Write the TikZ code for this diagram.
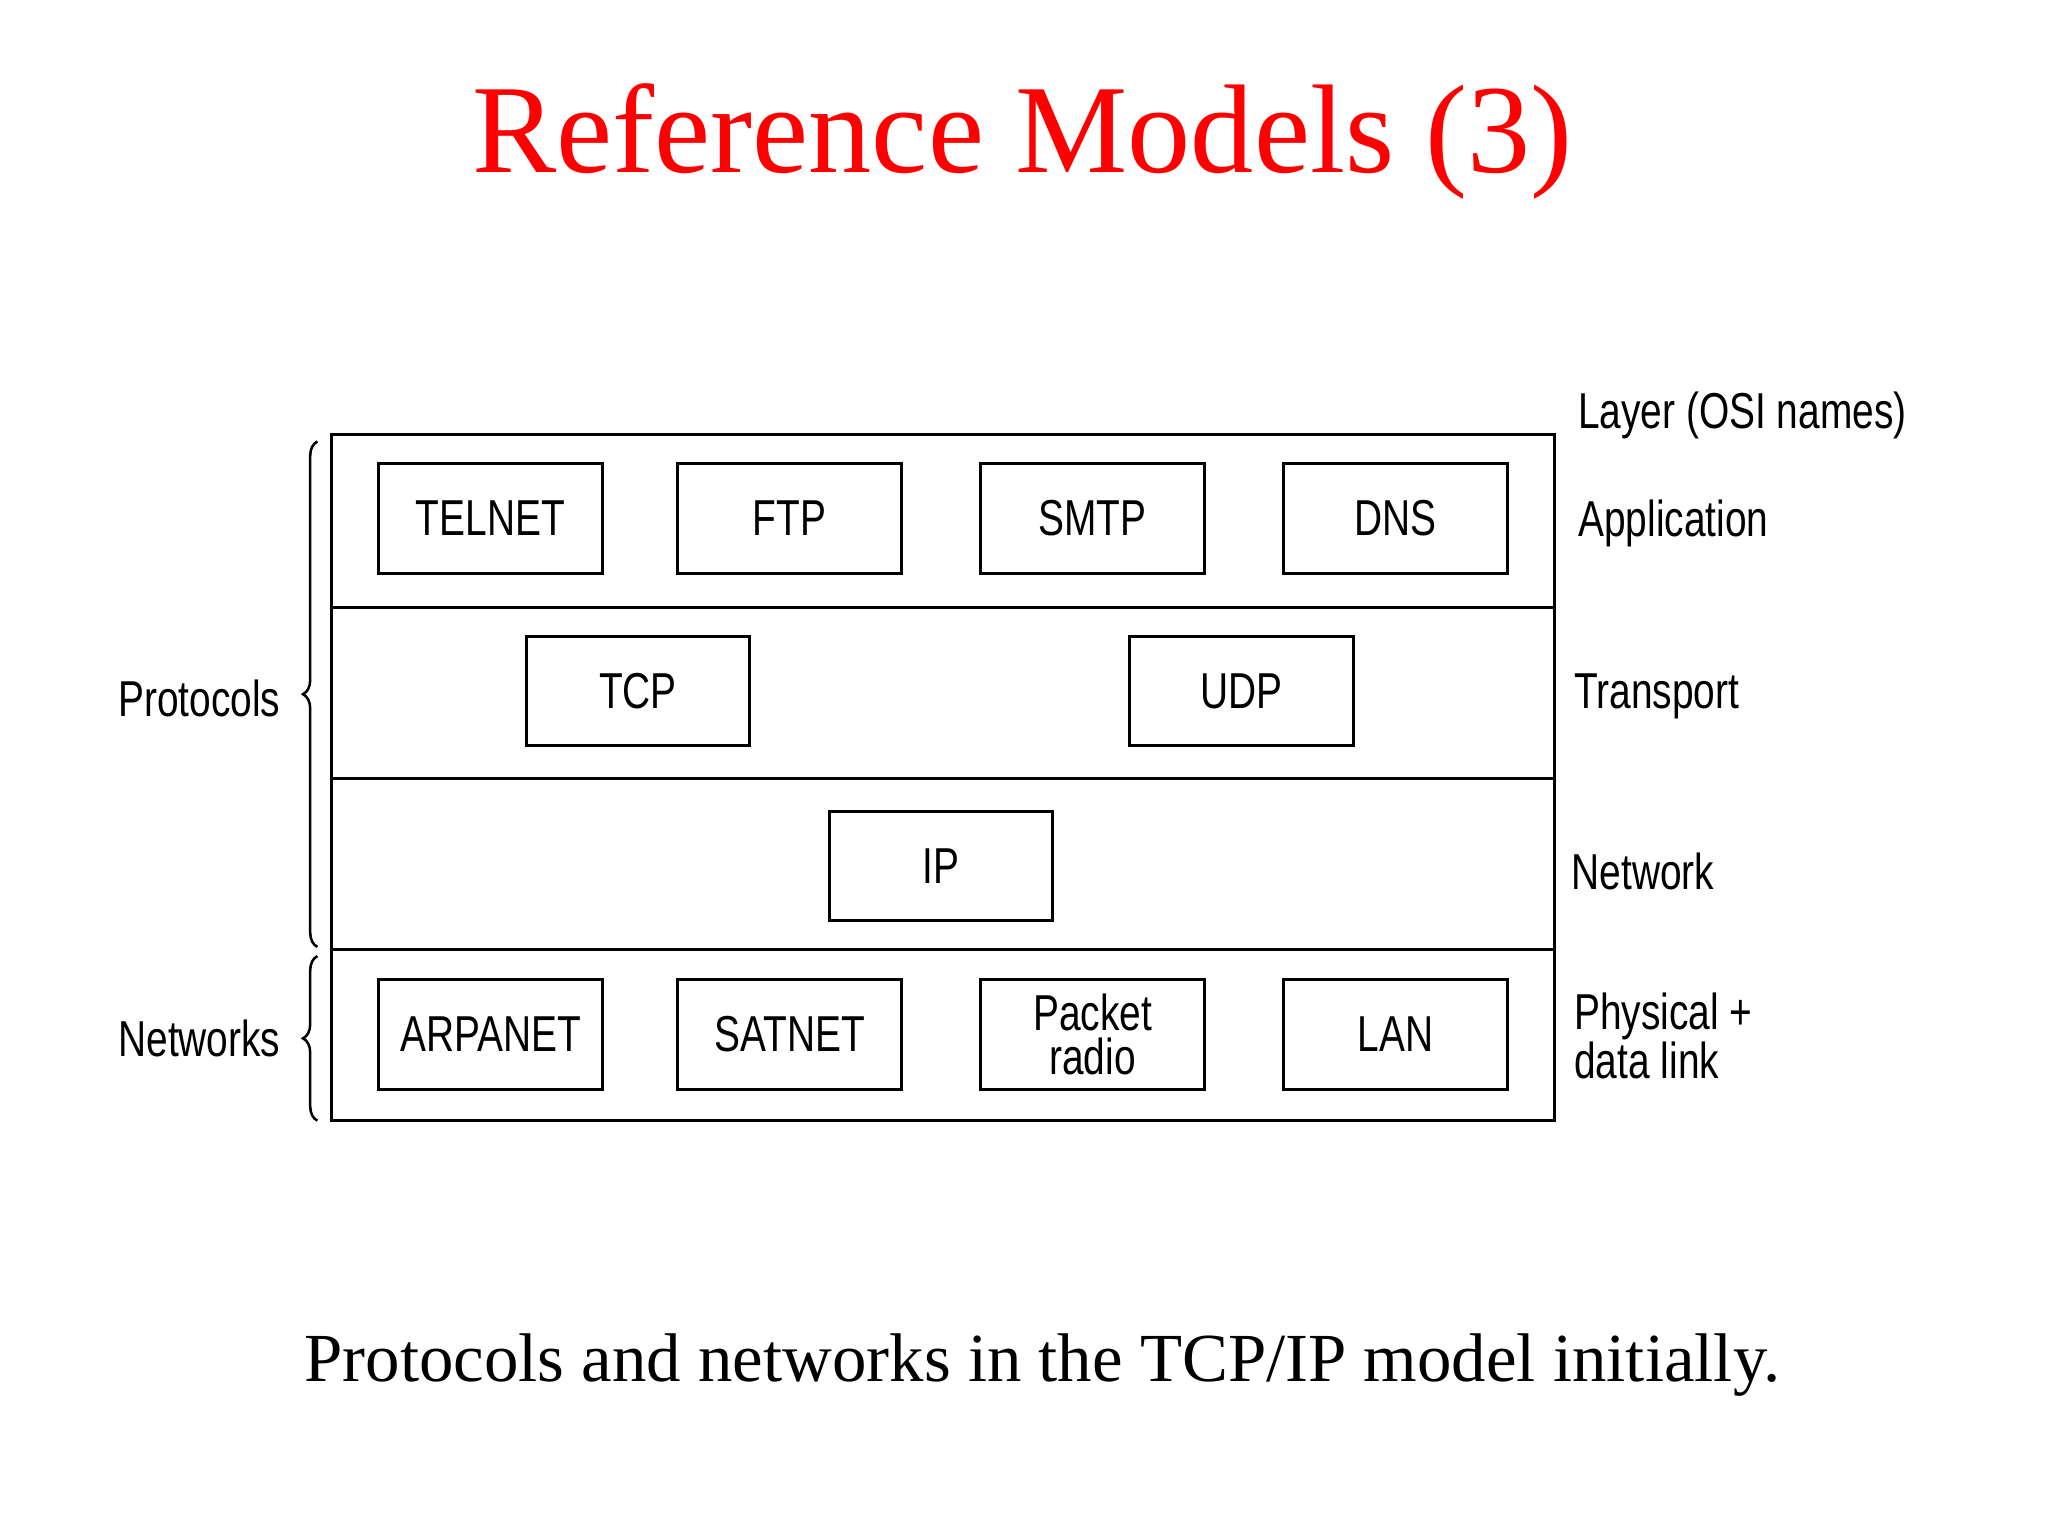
\documentclass[tikz,border=0pt]{standalone}
\usepackage{fontspec}
\setmainfont{Liberation Serif}
\newfontfamily\diag[FakeStretch=0.77]{Liberation Sans}
\usetikzlibrary{decorations.pathreplacing}
\begin{document}
\begin{tikzpicture}[x=0.02cm,y=-0.02cm,
  prot/.style={draw,line width=1.3pt,minimum width=171*0.02cm,minimum height=84*0.02cm,inner sep=0pt,font=\diag\fontsize{22}{19}\selectfont,align=center},
  lab/.style={font=\diag\fontsize{22}{19}\selectfont,align=left,inner sep=0pt},
  br/.style={decorate,decoration={brace,amplitude=0.22cm},line width=1.1pt}]
\useasboundingbox (0,0) rectangle (1568,1176);
\node[text=red,font=\fontsize{55}{55}\selectfont] (title) at (783,108) {Reference Models (3)};
\node[font=\fontsize{30}{30}\selectfont] (cap) at (798,1045) {Protocols and networks in the TCP/IP model initially.};
\draw[line width=1.3pt] (254,333) rectangle (1190,858);
\coordinate (d1l) at (254,465); \coordinate (d1r) at (1190,465);
\coordinate (d2l) at (254,596); \coordinate (d2r) at (1190,596);
\coordinate (d3l) at (254,727); \coordinate (d3r) at (1190,727);
\draw[line width=1.3pt] (d1l)--(d1r) (d2l)--(d2r) (d3l)--(d3r);
\node[prot] (telnet) at (375.5,397) {TELNET};
\node[prot] (ftp) at (604.5,397) {FTP};
\node[prot] (smtp) at (836.5,397) {SMTP};
\node[prot] (dns) at (1068.5,397) {DNS};
\node[prot] (tcp) at (488.5,529) {TCP};
\node[prot] (udp) at (950.5,529) {UDP};
\node[prot] (ip) at (720.5,663) {IP};
\node[prot] (arpanet) at (375.5,792) {ARPANET};
\node[prot] (satnet) at (604.5,792) {SATNET};
\node[prot] (packet) at (836.5,792) {Packet\\radio};
\node[prot] (lan) at (1068.5,792) {LAN};
\node[lab,anchor=west] (layer) at (1208,318) {Layer (OSI names)};
\node[lab,anchor=west] (app) at (1208,401) {Application};
\node[lab,anchor=west] (tr) at (1205,533) {Transport};
\node[lab,anchor=west] (net) at (1203,667) {Network};
\node[lab,anchor=west] (phy) at (1205,793) {Physical +\\data link};
\node[lab,anchor=east] (protl) at (215,535) {Protocols};
\node[lab,anchor=east] (netl) at (215,795) {Networks};
\coordinate (b1a) at (243,725); \coordinate (b1b) at (243,338);
\coordinate (b2a) at (243,858); \coordinate (b2b) at (243,732);
\draw[br] (b1a) -- (b1b);
\draw[br] (b2a) -- (b2b);
\end{tikzpicture}
\end{document}
